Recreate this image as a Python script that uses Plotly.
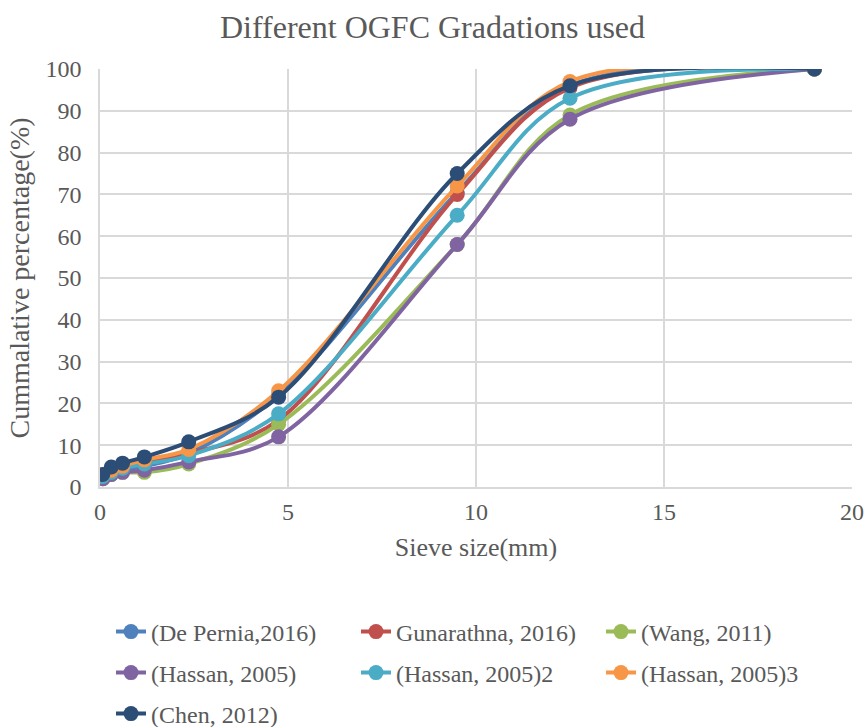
import plotly.graph_objects as go

sieve = [0.075, 0.3, 0.6, 1.18, 2.36, 4.75, 9.5, 12.5, 19]

names = ["(De Pernia,2016)", "Gunarathna, 2016)", "(Wang, 2011)",
         "(Hassan, 2005)", "(Hassan, 2005)2", "(Hassan, 2005)3", "(Chen, 2012)"]

de_pernia = [2.5, 3.0, 4.0, 5.0, 8.0, 22.0, 70.5, 96.0, 100]
gunarathna = [2.0, 3.5, 4.8, 5.8, 8.0, 16.0, 70.0, 95.5, 100]
wang = [2.5, 3.0, 3.5, 3.5, 5.5, 15.0, 58.0, 89.0, 100]
hassan = [2.0, 3.0, 3.5, 4.0, 6.0, 12.0, 58.0, 88.0, 100]
hassan2 = [2.5, 3.5, 4.5, 5.5, 7.5, 17.5, 65.0, 93.0, 100]
hassan3 = [3.0, 4.0, 5.0, 6.5, 9.0, 23.0, 72.0, 97.0, 100]
chen = [3.0, 4.8, 5.7, 7.2, 10.8, 21.5, 75.0, 96.0, 100]

series = [de_pernia, gunarathna, wang, hassan, hassan2, hassan3, chen]
colors = ["#4F81BD", "#C0504D", "#9BBB59", "#8064A2", "#4BACC6", "#F79646", "#2C4D75"]
legend_rows = ["legend", "legend", "legend", "legend2", "legend2", "legend2", "legend3"]

fig = go.Figure()
for name, vals, col, lg in zip(names, series, colors, legend_rows):
    fig.add_trace(go.Scatter(
        x=sieve, y=vals, name=name, mode="lines+markers",
        line=dict(color=col, width=4, shape="spline", smoothing=1.0),
        marker=dict(color=col, size=15),
        legend=lg,
    ))

font_family = "Liberation Serif, Times New Roman, serif"
txt = "#595959"


def leg(ycenter):
    return dict(orientation="h", xref="container", yref="container",
                x=111 / 865, y=1 - ycenter / 727, xanchor="left", yanchor="middle",
                entrywidth=200, entrywidthmode="pixels", bgcolor="rgba(0,0,0,0)",
                font=dict(size=24, color=txt, family=font_family), traceorder="normal")


fig.update_layout(
    width=865, height=727,
    paper_bgcolor="white", plot_bgcolor="white",
    margin=dict(l=100, r=13, t=69, b=240),
    font=dict(family=font_family, size=24, color=txt),
    title=dict(text="Different OGFC Gradations used", x=0.5, xanchor="center",
               y=1 - 27 / 727, yanchor="middle",
               font=dict(size=32, color=txt, family=font_family)),
    xaxis=dict(range=[0, 20], dtick=5, showgrid=True, gridcolor="#D9D9D9", gridwidth=1.5,
               showline=True, linecolor="#D9D9D9", linewidth=1.5, zeroline=False,
               ticks="", tickfont=dict(size=24, color=txt), ticklabelstandoff=2,
               automargin=False,
               title=dict(text="Sieve size(mm)", font=dict(size=26, color=txt), standoff=14)),
    yaxis=dict(range=[0, 100], dtick=10, showgrid=True, gridcolor="#D9D9D9", gridwidth=1.5,
               showline=True, linecolor="#D9D9D9", linewidth=1.5, zeroline=False,
               ticks="", tickfont=dict(size=24, color=txt), ticklabelstandoff=12,
               automargin=False,
               title=dict(text="Cummalative percentage(%)", font=dict(size=28, color=txt), standoff=8)),
    legend=leg(632),
    legend2=leg(673),
    legend3=leg(714),
)

fig.write_html("out.html")
